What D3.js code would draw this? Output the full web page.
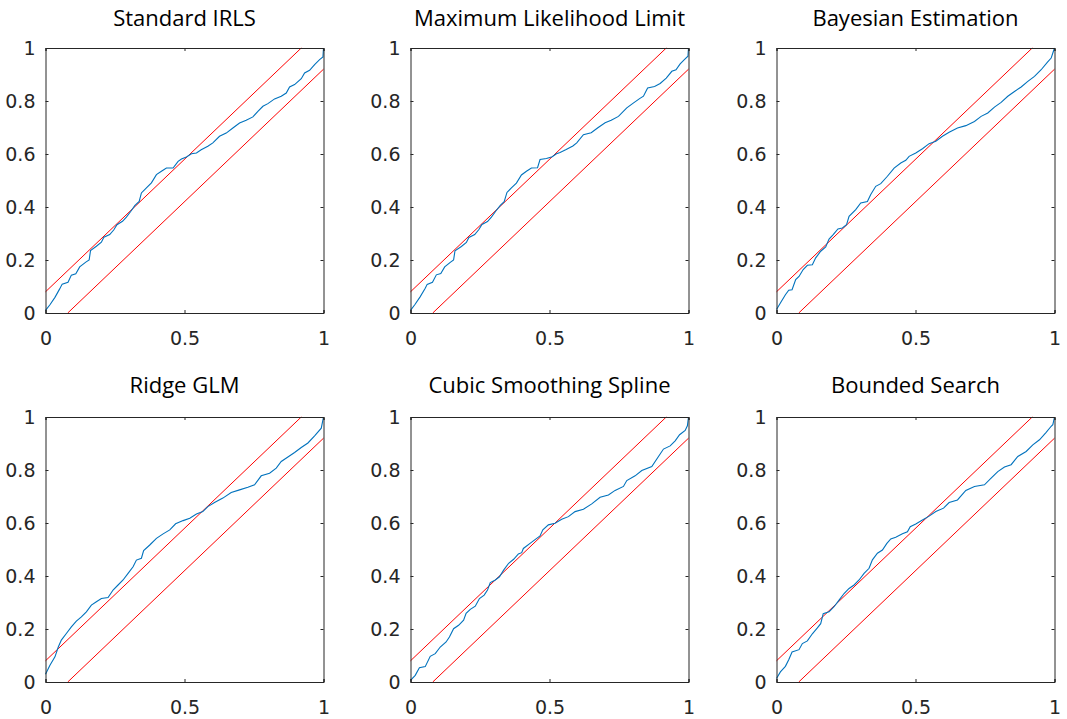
<!DOCTYPE html>
<html>
<head>
<meta charset="utf-8">
<script src="https://cdn.jsdelivr.net/npm/d3@7"></script>
<style>
  body { margin: 0; background: #fff; }
  .title { font-family: "Open Sans", "Noto Sans", sans-serif; font-size: 22px; fill: #000; }
</style>
</head>
<body>
<svg id="chart" width="1067" height="719"></svg>
<script>

var titles = ['Standard IRLS', 'Maximum Likelihood Limit', 'Bayesian Estimation',
              'Ridge GLM', 'Cubic Smoothing Spline', 'Bounded Search'];

var xTicks = [0, 0.5, 1];
var yTicks = [0, 0.2, 0.4, 0.6, 0.8, 1];

// confidence band lines (y = x +/- 0.08)
var upperBand = [[0, 0.08], [0.92, 1]];
var lowerBand = [[0.08, 0], [1, 0.92]];

var irlsPts = [
  [0,0.010],[0.016,0.031],[0.034,0.059],[0.051,0.091],[0.060,0.109],[0.081,0.116],[0.093,0.143],
  [0.109,0.148],[0.123,0.174],[0.145,0.192],[0.157,0.200],[0.162,0.236],[0.183,0.252],[0.201,0.267],
  [0.210,0.286],[0.231,0.296],[0.246,0.314],[0.257,0.333],[0.277,0.346],[0.291,0.362],[0.307,0.384],
  [0.321,0.405],[0.337,0.421],[0.345,0.453],[0.363,0.472],[0.381,0.491],[0.399,0.522],[0.417,0.535],
  [0.435,0.547],[0.459,0.547],[0.477,0.572],[0.489,0.581],[0.507,0.589],[0.525,0.601],[0.543,0.604],
  [0.560,0.616],[0.584,0.629],[0.602,0.642],[0.626,0.667],[0.650,0.679],[0.674,0.698],[0.698,0.717],
  [0.722,0.727],[0.746,0.740],[0.764,0.761],[0.782,0.780],[0.800,0.790],[0.824,0.808],[0.848,0.818],
  [0.866,0.830],[0.878,0.853],[0.896,0.862],[0.920,0.884],[0.932,0.906],[0.950,0.916],[0.968,0.937],
  [0.986,0.956],[0.998,0.966],[1,1]
];

var mllPts = [
  [0,0.010],[0.016,0.032],[0.034,0.060],[0.053,0.093],[0.060,0.108],[0.079,0.116],[0.093,0.144],
  [0.109,0.149],[0.123,0.174],[0.143,0.191],[0.155,0.200],[0.160,0.235],[0.183,0.251],[0.201,0.266],
  [0.210,0.285],[0.231,0.296],[0.246,0.315],[0.257,0.334],[0.277,0.345],[0.291,0.362],[0.307,0.385],
  [0.323,0.406],[0.337,0.420],[0.347,0.455],[0.363,0.472],[0.381,0.490],[0.399,0.521],[0.417,0.535],
  [0.435,0.547],[0.457,0.548],[0.466,0.579],[0.489,0.583],[0.510,0.590],[0.525,0.601],[0.538,0.606],
  [0.560,0.617],[0.584,0.630],[0.598,0.642],[0.622,0.673],[0.650,0.680],[0.674,0.699],[0.700,0.718],
  [0.722,0.727],[0.748,0.742],[0.778,0.774],[0.800,0.791],[0.824,0.809],[0.838,0.818],[0.853,0.849],
  [0.878,0.855],[0.898,0.866],[0.920,0.886],[0.940,0.912],[0.955,0.918],[0.970,0.940],[0.986,0.957],
  [0.998,0.969],[1,1]
];

var bayesPts = [
  [0,0.013],[0.014,0.038],[0.032,0.069],[0.044,0.086],[0.056,0.088],[0.069,0.126],[0.081,0.138],
  [0.096,0.164],[0.111,0.180],[0.129,0.182],[0.141,0.208],[0.159,0.233],[0.177,0.249],[0.189,0.279],
  [0.204,0.296],[0.221,0.317],[0.237,0.321],[0.252,0.333],[0.261,0.365],[0.285,0.390],[0.303,0.415],
  [0.327,0.421],[0.339,0.447],[0.357,0.478],[0.375,0.488],[0.399,0.516],[0.423,0.547],[0.447,0.566],
  [0.465,0.576],[0.477,0.591],[0.501,0.604],[0.525,0.620],[0.549,0.639],[0.573,0.648],[0.597,0.667],
  [0.621,0.682],[0.651,0.698],[0.681,0.707],[0.712,0.723],[0.736,0.742],[0.760,0.755],[0.784,0.777],
  [0.808,0.795],[0.832,0.818],[0.856,0.836],[0.880,0.853],[0.904,0.874],[0.928,0.893],[0.952,0.918],
  [0.974,0.946],[0.988,0.962],[0.994,0.981],[1,1]
];

var ridgePts = [
  [0,0.029],[0.016,0.063],[0.034,0.095],[0.046,0.132],[0.057,0.158],[0.075,0.183],[0.093,0.208],
  [0.111,0.230],[0.129,0.246],[0.147,0.265],[0.165,0.290],[0.183,0.303],[0.201,0.315],[0.225,0.319],
  [0.243,0.347],[0.261,0.366],[0.279,0.385],[0.297,0.410],[0.315,0.435],[0.327,0.460],[0.345,0.467],
  [0.353,0.496],[0.375,0.517],[0.399,0.542],[0.423,0.559],[0.447,0.574],[0.468,0.597],[0.495,0.609],
  [0.519,0.618],[0.543,0.634],[0.566,0.643],[0.584,0.662],[0.608,0.677],[0.638,0.694],[0.668,0.715],
  [0.698,0.725],[0.728,0.735],[0.752,0.744],[0.776,0.778],[0.806,0.788],[0.830,0.807],[0.848,0.832],
  [0.872,0.849],[0.896,0.866],[0.920,0.885],[0.944,0.902],[0.968,0.929],[0.992,0.958],[1,1]
];

var splinePts = [
  [0,0.006],[0.017,0.025],[0.032,0.054],[0.053,0.058],[0.071,0.097],[0.089,0.107],[0.107,0.132],
  [0.128,0.151],[0.140,0.170],[0.155,0.201],[0.173,0.214],[0.191,0.233],[0.200,0.259],[0.215,0.274],
  [0.233,0.286],[0.248,0.315],[0.265,0.328],[0.277,0.347],[0.287,0.375],[0.305,0.385],[0.320,0.397],
  [0.335,0.422],[0.353,0.448],[0.371,0.463],[0.388,0.483],[0.400,0.488],[0.406,0.504],[0.430,0.523],
  [0.454,0.542],[0.466,0.551],[0.476,0.574],[0.496,0.593],[0.520,0.599],[0.544,0.614],[0.568,0.624],
  [0.592,0.643],[0.622,0.652],[0.652,0.672],[0.682,0.697],[0.712,0.706],[0.736,0.723],[0.766,0.738],
  [0.778,0.760],[0.808,0.778],[0.832,0.798],[0.868,0.813],[0.892,0.851],[0.910,0.879],[0.934,0.891],
  [0.952,0.910],[0.968,0.933],[0.988,0.949],[0.996,0.967],[1,1]
];

var boundedPts = [
  [0,0.013],[0.014,0.038],[0.032,0.059],[0.044,0.084],[0.056,0.113],[0.081,0.122],[0.093,0.145],
  [0.111,0.155],[0.129,0.182],[0.147,0.204],[0.159,0.220],[0.168,0.258],[0.189,0.265],[0.207,0.284],
  [0.225,0.309],[0.243,0.334],[0.261,0.353],[0.279,0.366],[0.297,0.385],[0.315,0.410],[0.333,0.429],
  [0.345,0.461],[0.363,0.486],[0.381,0.498],[0.397,0.523],[0.411,0.540],[0.429,0.546],[0.453,0.559],
  [0.471,0.567],[0.481,0.586],[0.501,0.596],[0.525,0.611],[0.549,0.626],[0.573,0.643],[0.601,0.656],
  [0.621,0.677],[0.651,0.687],[0.681,0.723],[0.712,0.738],[0.748,0.744],[0.772,0.769],[0.796,0.794],
  [0.820,0.811],[0.844,0.820],[0.868,0.851],[0.898,0.870],[0.922,0.895],[0.946,0.914],[0.970,0.942],
  [0.988,0.965],[0.994,0.971],[1,1]
];

var allPts = [irlsPts, mllPts, bayesPts, ridgePts, splinePts, boundedPts];

var svg = d3.select('#chart');

var colLeft = [45.5, 410.5, 776.5],
    rowTop = [48, 417],
    w = 278, h = 265;

titles.forEach(function(t, i) {
  var col = i % 3, row = Math.floor(i / 3);

  var x = d3.scaleLinear().domain([0, 1]).range([0, w]);
  var y = d3.scaleLinear().domain([0, 1]).range([h, 0]);

  var g = svg.append('g')
      .attr('transform', 'translate(' + colLeft[col] + ',' + rowTop[row] + ')');

  var line = d3.line()
      .x(function(d) { return x(d[0]); })
      .y(function(d) { return y(d[1]); });

  g.append('path')
      .datum(upperBand)
      .attr('d', line)
      .attr('fill', 'none')
      .attr('stroke', '#ff0000')
      .attr('stroke-width', 1);

  g.append('path')
      .datum(lowerBand)
      .attr('d', line)
      .attr('fill', 'none')
      .attr('stroke', '#ff0000')
      .attr('stroke-width', 1);

  g.append('path')
      .datum(allPts[i])
      .attr('d', line)
      .attr('fill', 'none')
      .attr('stroke', '#0072bd')
      .attr('stroke-width', 1.1);

  // box axes, ticks pointing inward like matlab
  g.append('g')
      .attr('transform', 'translate(0,' + h + ')')
      .call(d3.axisBottom(x).tickValues(xTicks).tickSize(-3).tickPadding(18.5).tickFormat(d3.format('')));
  g.append('g')
      .call(d3.axisTop(x).tickValues(xTicks).tickSize(-3).tickFormat(''));
  g.append('g')
      .call(d3.axisLeft(y).tickValues(yTicks).tickSize(-3).tickPadding(10).tickFormat(d3.format('')));
  g.append('g')
      .attr('transform', 'translate(' + w + ',0)')
      .call(d3.axisRight(y).tickValues(yTicks).tickSize(-3).tickFormat(''));

  g.selectAll('.domain').attr('stroke', '#262626').attr('stroke-width', 1);
  g.selectAll('.tick line').attr('stroke', '#262626');
  g.selectAll('.tick text')
      .style('font-family', '"DejaVu Sans", sans-serif')
      .style('font-size', '19px')
      .style('fill', '#262626');

  svg.append('text')
      .attr('class', 'title')
      .attr('x', colLeft[col] + w / 2)
      .attr('y', row === 0 ? 26 : 393)
      .attr('text-anchor', 'middle')
      .text(t);
});

</script>
</body>
</html>
